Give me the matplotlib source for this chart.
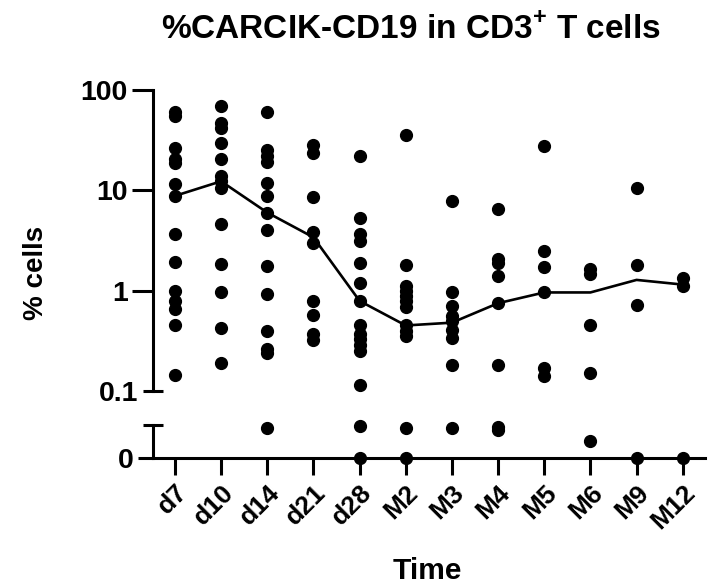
import matplotlib

matplotlib.use("Agg")
import matplotlib.pyplot as plt
from matplotlib.ticker import FixedLocator, FixedFormatter, NullLocator

plt.rcParams["font.family"] = ["Liberation Sans", "DejaVu Sans"]
plt.rcParams["font.weight"] = "bold"
plt.rcParams["mathtext.fontset"] = "custom"
plt.rcParams["mathtext.bf"] = "Liberation Sans:bold"
plt.rcParams["mathtext.rm"] = "Liberation Sans:bold"

timepoints = ["d7", "d10", "d14", "d21", "d28", "M2", "M3", "M4", "M5", "M6", "M9", "M12"]

d7 = [59.8, 55, 26.5, 20.4, 18.8, 11.5, 8.8, 3.63, 1.95, 1.0, 0.79, 0.66, 0.45, 0.145]
d10 = [69, 47, 42, 29.7, 20.3, 13.8, 12.3, 10.6, 4.6, 1.85, 0.98, 0.42, 0.19]
d14 = [60.7, 25, 21.9, 19.2, 11.9, 8.8, 6.0, 4.0, 1.75, 0.93, 0.40, 0.265, 0.24, 0.046]
d21 = [28, 23.6, 8.6, 3.83, 3.0, 0.78, 0.57, 0.37, 0.32]
d28 = [21.9, 5.3, 3.69, 3.09, 1.88, 1.18, 0.79, 0.46, 0.37, 0.33, 0.29, 0.25, 0.115, 0.048, 0]
m2 = [35.5, 1.82, 1.12, 1.0, 0.89, 0.79, 0.68, 0.45, 0.40, 0.355, 0.046, 0]
m3 = [7.9, 0.98, 0.70, 0.56, 0.50, 0.41, 0.34, 0.18, 0.046]
m4 = [6.45, 2.07, 1.88, 1.41, 0.75, 0.18, 0.047, 0.043]
m5 = [27.5, 2.47, 1.74, 0.96, 0.168, 0.141]
m6 = [1.65, 1.47, 0.45, 0.152, 0.026]
m9 = [10.6, 1.82, 0.72, 0]
m12 = [1.34, 1.12, 0]
groups = [d7, d10, d14, d21, d28, m2, m3, m4, m5, m6, m9, m12]

median = [8.8, 12.3, 6.0, 3.4, 0.79, 0.45, 0.48, 0.75, 0.96, 0.96, 1.28, 1.15]

# axis break: log segment above 0.1, linear segment for values near zero
BREAK = 0.1
LOW_TOP = 0.05

fig = plt.figure(figsize=(7.25, 5.88), dpi=100)
ax_top = fig.add_axes([0.211, 0.335, 0.761, 0.512])
ax_low = fig.add_axes([0.211, 0.221, 0.761, 0.056], sharex=ax_top)

for i, vals in enumerate(groups):
    hi = [v for v in vals if v >= BREAK]
    lo = [v for v in vals if v < BREAK]
    ax_top.plot([i] * len(hi), hi, "o", color="black", ms=8.5, clip_on=False, zorder=3)
    ax_low.plot([i] * len(lo), lo, "o", color="black", ms=8.5, clip_on=False, zorder=3)

ax_top.plot(range(len(timepoints)), median, color="black", lw=1.9, zorder=2)

ax_top.set_yscale("log")
ax_top.set_ylim(0.1, 100)
ax_top.set_xlim(-0.476, len(timepoints) - 1 + 0.476)
ax_low.set_ylim(0, LOW_TOP)

for ax in (ax_top, ax_low):
    for side in ("top", "right"):
        ax.spines[side].set_visible(False)
    ax.spines["left"].set_linewidth(2.2)
ax_top.spines["bottom"].set_visible(False)
ax_low.spines["bottom"].set_linewidth(2.2)

ax_top.yaxis.set_major_locator(FixedLocator([1, 10, 100]))
ax_top.yaxis.set_major_formatter(FixedFormatter(["1", "10", "100"]))
ax_top.yaxis.set_minor_locator(FixedLocator([0.1]))
ax_top.yaxis.set_minor_formatter(FixedFormatter(["0.1"]))
ax_top.tick_params(axis="y", which="major", length=15, width=2.2, labelsize=20.5, pad=3)
ax_top.tick_params(axis="y", which="minor", direction="inout", length=15, width=2.2,
                   labelsize=20.5, pad=3)
ax_top.tick_params(axis="x", bottom=False, labelbottom=False)

ax_low.yaxis.set_major_locator(FixedLocator([0]))
ax_low.yaxis.set_major_formatter(FixedFormatter(["0"]))
ax_low.yaxis.set_minor_locator(FixedLocator([LOW_TOP]))
ax_low.tick_params(axis="y", which="major", length=11, width=2.2, labelsize=20.5, pad=3)
ax_low.tick_params(axis="y", which="minor", direction="inout", length=15, width=2.2)

ax_low.set_xticks(range(len(timepoints)))
ax_low.set_xticklabels(timepoints, rotation=45, ha="right", rotation_mode="anchor",
                       fontsize=19, fontweight="bold")
ax_low.tick_params(axis="x", length=12, width=2.2, pad=4)
ax_low.xaxis.set_minor_locator(NullLocator())

for lab in ax_top.get_yticklabels(which="both") + ax_low.get_yticklabels():
    lab.set_fontweight("bold")

fig.text(0.05, 1 - 273 / 588, "% cells", rotation=90, ha="center", va="center",
         fontsize=20, fontweight="bold")
fig.text(0.59, 1 - 571 / 588, "Time", ha="center", va="center", fontsize=21.5,
         fontweight="bold")
fig.text(0.566, 1 - 30 / 588, r"%CARCIK-CD19 in CD3$^{\mathbf{+}}$ T cells", ha="center",
         va="center", fontsize=24, fontweight="bold")

fig.savefig("out.png", dpi=100)
